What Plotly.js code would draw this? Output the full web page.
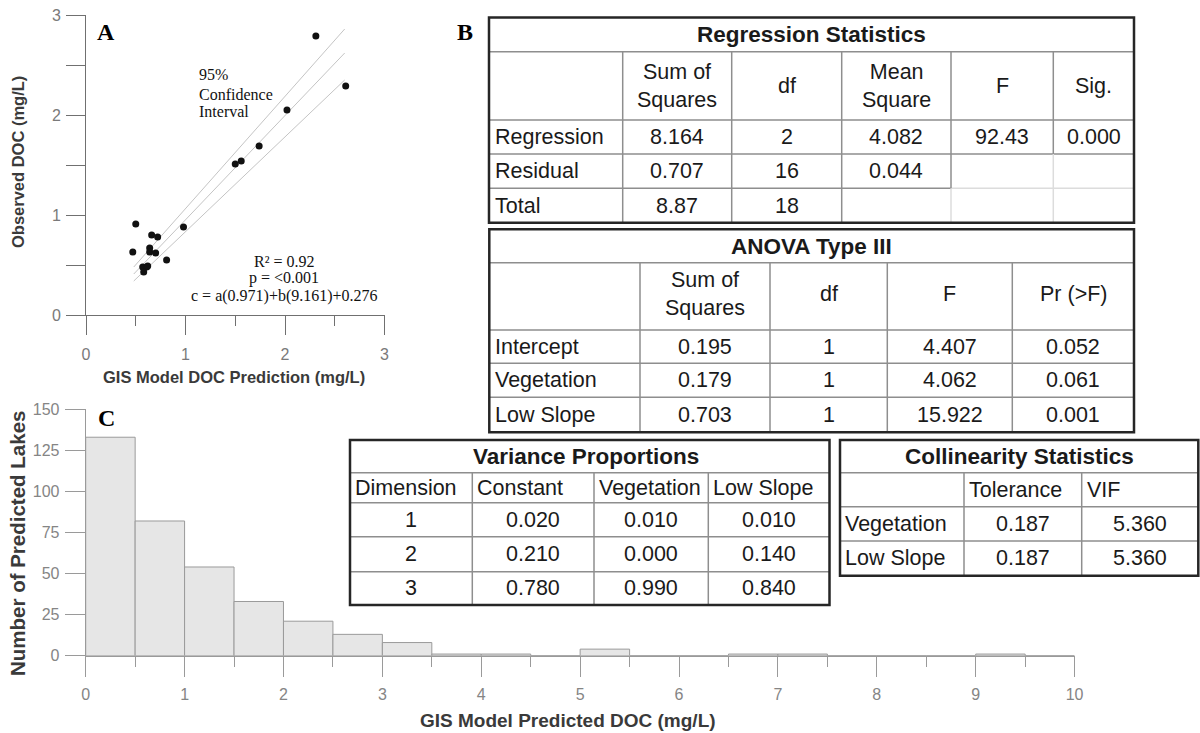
<!DOCTYPE html>
<html><head><meta charset="utf-8">
<script src="https://cdn.plot.ly/plotly-3.0.1.min.js"></script>
<style>html,body{margin:0;padding:0;background:#fff}#chart{width:1200px;height:733px}</style>
</head><body><div id="chart"></div>
<script>
// ---------- Panel A data ----------
const predDOC = [2.31, 2.61, 2.02, 1.74, 1.56, 1.50, 0.98, 0.50, 0.47, 0.66, 0.72, 0.64, 0.64, 0.70, 0.81, 0.57, 0.61, 0.58, 0.62];
const obsDOC  = [2.79, 2.29, 2.05, 1.69, 1.54, 1.51, 0.88, 0.91, 0.63, 0.80, 0.78, 0.67, 0.63, 0.62, 0.55, 0.48, 0.48, 0.43, 0.49];
const lineX   = [0.48, 2.60];
const fitY    = [0.41, 2.62];
const upperY  = [0.48, 2.86];
const lowerY  = [0.34, 2.35];
const statLines = ['R² = 0.92', 'p = <0.001', 'c = a(0.971)+b(9.161)+0.276'];
const ciLines = ['95%', 'Confidence', 'Interval'];

// ---------- Panel C data ----------
const binLeft   = [0, 0.5, 1, 1.5, 2, 2.5, 3, 3.5, 4, 4.5, 5, 5.5, 6, 6.5, 7, 7.5, 8, 8.5, 9, 9.5];
const lakeCount = [133, 82, 54, 33, 21, 13, 8, 1, 1, 0, 4, 0, 0, 1, 1, 0, 0, 0, 1, 0];

// ---------- Panel B tables ----------
const regTitle = 'Regression Statistics';
const regHeaders = ['Sum of<br>Squares', 'df', 'Mean<br>Square', 'F', 'Sig.'];
const regRows = ['Regression', 'Residual', 'Total'];
const regSS  = ['8.164', '0.707', '8.87'];
const regDf  = ['2', '16', '18'];
const regMS  = ['4.082', '0.044', ''];
const regF   = ['92.43', '', ''];
const regSig = ['0.000', '', ''];

const anovaTitle = 'ANOVA Type III';
const anovaHeaders = ['Sum of<br>Squares', 'df', 'F', 'Pr (>F)'];
const anovaRows = ['Intercept', 'Vegetation', 'Low Slope'];
const anovaSS = ['0.195', '0.179', '0.703'];
const anovaDf = ['1', '1', '1'];
const anovaF  = ['4.407', '4.062', '15.922'];
const anovaP  = ['0.052', '0.061', '0.001'];

const varTitle = 'Variance Proportions';
const varHeaders = ['Dimension', 'Constant', 'Vegetation', 'Low Slope'];
const varDim   = ['1', '2', '3'];
const varConst = ['0.020', '0.210', '0.780'];
const varVeg   = ['0.010', '0.000', '0.990'];
const varSlope = ['0.010', '0.140', '0.840'];

const colTitle = 'Collinearity Statistics';
const colHeaders = ['Tolerance', 'VIF'];
const colRows = ['Vegetation', 'Low Slope'];
const colTol = ['0.187', '0.187'];
const colVIF = ['5.360', '5.360'];

// ---------- helpers ----------
const W = 1200, H = 733;
const px = x => x / W;
const py = y => 1 - y / H;
const SANS = 'Liberation Sans, Arial, Helvetica, sans-serif';
const SERIF = 'Liberation Serif, Times New Roman, serif';
const shapes = [];
const annotations = [];
const GRAY = '#8e8e8e', LIGHT = '#dcdcdc', DARK = '#262626';

function hline(y, x0, x1, color, w) {
  shapes.push({type: 'line', xref: 'paper', yref: 'paper', x0: px(x0), x1: px(x1), y0: py(y), y1: py(y), line: {color: color, width: w}});
}
function vline(x, y0, y1, color, w) {
  shapes.push({type: 'line', xref: 'paper', yref: 'paper', x0: px(x), x1: px(x), y0: py(y0), y1: py(y1), line: {color: color, width: w}});
}
function fillBox(x0, y0, x1, y1) {
  shapes.push({type: 'rect', xref: 'paper', yref: 'paper', x0: px(x0), x1: px(x1), y0: py(y1), y1: py(y0), fillcolor: '#ffffff', line: {width: 0}});
}
function border(x0, y0, x1, y1) {
  shapes.push({type: 'rect', xref: 'paper', yref: 'paper', x0: px(x0), x1: px(x1), y0: py(y1), y1: py(y0), fillcolor: 'rgba(0,0,0,0)', line: {color: DARK, width: 2.5}});
}
function label(text, x, y, o) {
  o = o || {};
  annotations.push({
    xref: 'paper', yref: 'paper', x: px(x), y: py(y), text: text, showarrow: false,
    xanchor: o.xa || 'center', yanchor: 'middle', align: o.align || 'center',
    textangle: o.angle || 0,
    font: {family: o.family || SANS, size: o.size || 21.5, color: o.color || '#1a1a1a', weight: o.weight || 'normal'}
  });
}
const mid = (a, b) => (a + b) / 2;

// ---------- Table 1: Regression Statistics ----------
(function () {
  const L = 489, R = 1134, T = 17.5, B = 222.7;
  const cx = [L, 622.7, 731.7, 841.7, 951, 1053.3, R];
  const ry = [T, 51.7, 120, 154, 188.3, B];
  fillBox(L, T, R, B);
  hline(ry[1], L, R, GRAY, 1.5);
  hline(ry[2], L, R, GRAY, 1.5);
  hline(ry[3], L, R, GRAY, 1.5);
  hline(ry[4], L, cx[4], GRAY, 1.5);
  hline(ry[4], cx[4], R, LIGHT, 1.5);
  vline(cx[1], ry[1], B, GRAY, 1.5);
  vline(cx[2], ry[1], B, GRAY, 1.5);
  vline(cx[3], ry[1], B, GRAY, 1.5);
  vline(cx[4], ry[1], ry[4], GRAY, 1.5);
  vline(cx[4], ry[4], B, LIGHT, 1.5);
  vline(cx[5], ry[1], ry[3], GRAY, 1.5);
  vline(cx[5], ry[3], B, LIGHT, 1.5);
  border(L, T, R, B);
  label(regTitle, mid(L, R), mid(ry[0], ry[1]), {weight: 'bold', size: 22.5});
  regHeaders.forEach((h, i) => label(h, mid(cx[i + 1], cx[i + 2]), mid(ry[1], ry[2])));
  const cols = [regSS, regDf, regMS, regF, regSig];
  regRows.forEach((r, j) => {
    const yc = mid(ry[j + 2], ry[j + 3]);
    label(r, L + 4, yc, {xa: 'left'});
    cols.forEach((c, i) => { if (c[j]) label(c[j], mid(cx[i + 1], cx[i + 2]), yc); });
  });
})();

// ---------- Table 2: ANOVA Type III ----------
(function () {
  const L = 489.3, R = 1134, T = 229.3, B = 432.3;
  const cx = [L, 640, 770, 887.3, 1012.3, R];
  const ry = [T, 262.7, 330, 363.3, 397.3, B];
  fillBox(L, T, R, B);
  for (let k = 1; k <= 4; k++) hline(ry[k], L, R, GRAY, 1.5);
  for (let k = 1; k <= 4; k++) vline(cx[k], ry[1], B, GRAY, 1.5);
  border(L, T, R, B);
  label(anovaTitle, mid(L, R), mid(ry[0], ry[1]), {weight: 'bold', size: 22.5});
  anovaHeaders.forEach((h, i) => label(h, mid(cx[i + 1], cx[i + 2]), mid(ry[1], ry[2]) - 2));
  const cols = [anovaSS, anovaDf, anovaF, anovaP];
  anovaRows.forEach((r, j) => {
    const yc = mid(ry[j + 2], ry[j + 3]);
    label(r, L + 4, yc, {xa: 'left'});
    cols.forEach((c, i) => label(c[j], mid(cx[i + 1], cx[i + 2]), yc));
  });
})();

// ---------- Table 3: Variance Proportions ----------
(function () {
  const L = 350, R = 829.5, T = 440, B = 605;
  const cx = [L, 472.3, 594, 708.3, R];
  const ry = [T, 472.7, 502.7, 536.7, 571.7, B];
  fillBox(L, T, R, B);
  for (let k = 1; k <= 4; k++) hline(ry[k], L, R, GRAY, 1.5);
  for (let k = 1; k <= 3; k++) vline(cx[k], ry[1], B, GRAY, 1.5);
  border(L, T, R, B);
  label(varTitle, mid(L, R) - 4, mid(ry[0], ry[1]), {weight: 'bold', size: 22.5});
  varHeaders.forEach((h, i) => label(h, cx[i] + 3, mid(ry[1], ry[2]), {xa: 'left'}));
  const cols = [varDim, varConst, varVeg, varSlope];
  varDim.forEach((d, j) => {
    const yc = mid(ry[j + 2], ry[j + 3]);
    cols.forEach((c, i) => label(c[j], mid(cx[i], cx[i + 1]), yc));
  });
})();

// ---------- Table 4: Collinearity Statistics ----------
(function () {
  const L = 840, R = 1198.3, T = 440, B = 575.7;
  const cx = [L, 964, 1081.7, R];
  const ry = [T, 472.7, 506.7, 541, B];
  fillBox(L, T, R, B);
  for (let k = 1; k <= 3; k++) hline(ry[k], L, R, GRAY, 1.5);
  for (let k = 1; k <= 2; k++) vline(cx[k], ry[1], B, GRAY, 1.5);
  border(L, T, R, B);
  label(colTitle, mid(L, R), mid(ry[0], ry[1]), {weight: 'bold', size: 22.5});
  colHeaders.forEach((h, i) => label(h, cx[i + 1] + 3, mid(ry[1], ry[2]), {xa: 'left'}));
  const cols = [colTol, colVIF];
  colRows.forEach((r, j) => {
    const yc = mid(ry[j + 2], ry[j + 3]);
    label(r, L + 3, yc, {xa: 'left'});
    cols.forEach((c, i) => label(c[j], mid(cx[i + 1], cx[i + 2]), yc));
  });
})();

// ---------- Panel labels / text ----------
label('A', 106, 32.5, {family: SERIF, size: 24, weight: 'bold', color: '#000'});
label('B', 465, 32, {family: SERIF, size: 24, weight: 'bold', color: '#000'});
label('C', 106, 418, {family: SERIF, size: 24, weight: 'bold', color: '#000'});
[75, 94.3, 111.7].forEach((y, i) => label(ciLines[i], 196.5, y, {xa: 'left', family: SERIF, size: 16, color: '#111'}));
[261, 278.3, 296].forEach((y, i) => label(statLines[i], 284, y, {family: SERIF, size: 16, color: '#111'}));

// axis titles
label('Observed DOC (mg/L)', 18, 162, {angle: -90, weight: 'bold', size: 16.5, color: '#3a3a3a'});
label('GIS Model DOC Prediction (mg/L)', 234, 377, {weight: 'bold', size: 16.5, color: '#3a3a3a'});
label('Number of Predicted Lakes', 17, 544, {angle: -90, weight: 'bold', size: 20.5, color: '#3a3a3a'});
label('GIS Model Predicted DOC (mg/L)', 568, 720, {weight: 'bold', size: 19, color: '#3a3a3a'});

// ---------- traces ----------
const ciStyle = {color: '#c4c4c4', width: 1};
const traces = [
  {type: 'scatter', mode: 'lines', x: lineX, y: upperY, line: ciStyle, xaxis: 'x', yaxis: 'y', hoverinfo: 'skip'},
  {type: 'scatter', mode: 'lines', x: lineX, y: fitY, line: ciStyle, xaxis: 'x', yaxis: 'y', hoverinfo: 'skip'},
  {type: 'scatter', mode: 'lines', x: lineX, y: lowerY, line: ciStyle, xaxis: 'x', yaxis: 'y', hoverinfo: 'skip'},
  {type: 'scatter', mode: 'markers', x: predDOC, y: obsDOC, marker: {color: '#111', size: 7}, xaxis: 'x', yaxis: 'y'},
  {type: 'bar', x: binLeft, y: lakeCount, offset: 0, width: 0.5, xaxis: 'x2', yaxis: 'y2',
   marker: {color: '#e6e6e6', line: {color: '#9a9a9a', width: 1}}}
];

const axA = '#707070', axC = '#9a9a9a', tickFontA = {family: SANS, size: 16, color: '#7a7a7a'}, tickFontC = {family: SANS, size: 16, color: '#858585'};
const layout = {
  width: W, height: H, margin: {l: 0, r: 0, t: 0, b: 0},
  paper_bgcolor: '#fff', plot_bgcolor: 'rgba(0,0,0,0)', showlegend: false,
  xaxis: {domain: [86 / W, 384.5 / W], range: [0, 3], anchor: 'y', showline: true, linecolor: axA, linewidth: 1,
    ticks: 'outside', ticklen: 19, tickcolor: axA, tickvals: [0, 1, 2, 3], showgrid: false, zeroline: false,
    tickfont: tickFontA, ticklabelstandoff: 6,
    minor: {ticks: 'outside', ticklen: 10, tickcolor: axA, tick0: 0, dtick: 0.5, showgrid: false}},
  yaxis: {domain: [py(315), py(15)], range: [0, 3], anchor: 'x', showline: true, linecolor: axA, linewidth: 1,
    ticks: 'outside', ticklen: 19, tickcolor: axA, tickvals: [0, 0.5, 1, 1.5, 2, 2.5, 3], ticktext: ['0', '', '1', '', '2', '', '3'],
    showgrid: false, zeroline: false, tickfont: tickFontA, ticklabelstandoff: 2},
  xaxis2: {domain: [85.7 / W, 1074.6 / W], range: [0, 10], anchor: 'y2', showline: true, linecolor: axC, linewidth: 1,
    ticks: 'outside', ticklen: 20, tickcolor: axC, dtick: 1, tick0: 0, showgrid: false, zeroline: false,
    tickfont: tickFontC, ticklabelstandoff: 4,
    minor: {ticks: 'outside', ticklen: 10, tickcolor: axC, tick0: 0, dtick: 0.5, showgrid: false}},
  yaxis2: {domain: [py(655.7), py(409.3)], range: [0, 150], anchor: 'x2', showline: true, linecolor: axC, linewidth: 1,
    ticks: 'outside', ticklen: 20, tickcolor: axC, dtick: 25, tick0: 0, showgrid: false, zeroline: false,
    tickfont: tickFontC, ticklabelstandoff: 2},
  shapes: shapes,
  annotations: annotations
};

Plotly.newPlot('chart', traces, layout, {displayModeBar: false, staticPlot: true});
</script>
</body></html>
